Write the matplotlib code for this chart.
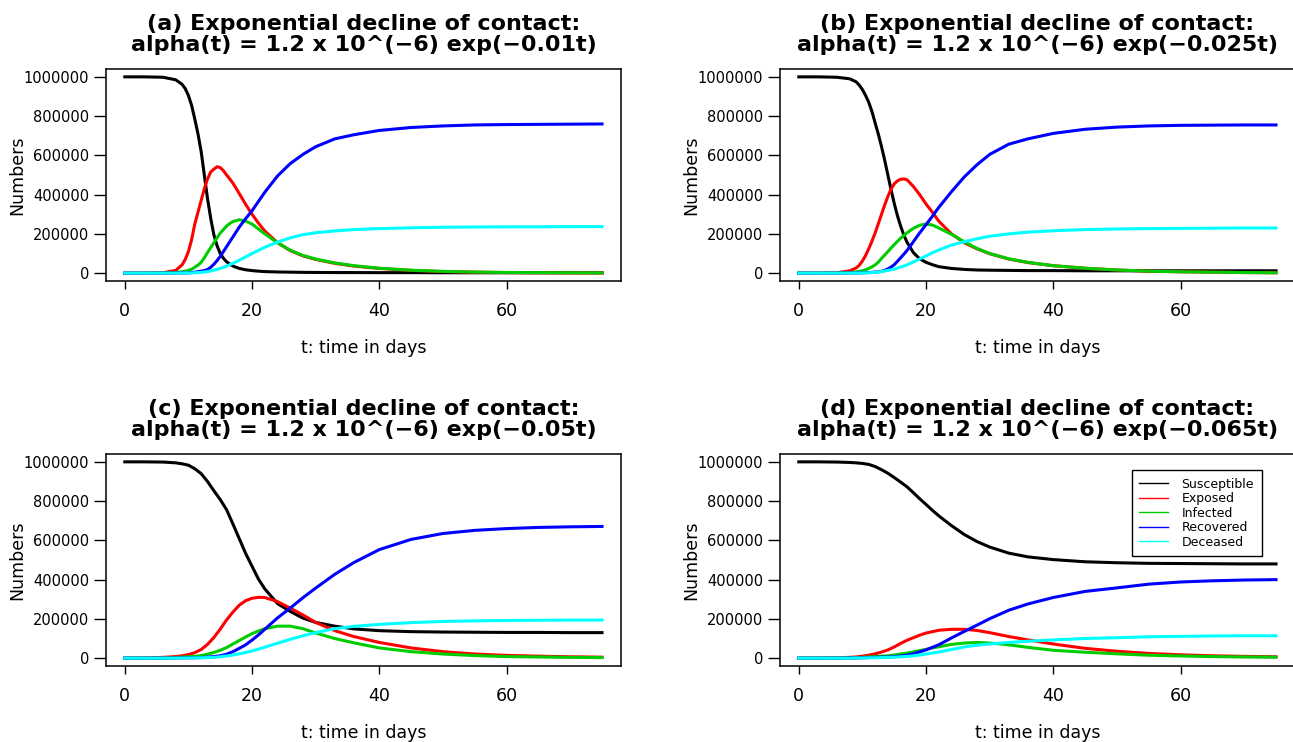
import numpy as np
import matplotlib.pyplot as plt

plt.rcParams['font.family'] = ['DejaVu Sans']

# time grids (days); compartments in thousands
# panels (a), (b) have the fast outbreak, so they are read more densely
t_fast = [0, 3, 6, 8, 9, 9.5, 10, 10.5, 11, 11.5, 12, 12.5, 13, 13.5, 14, 14.5,
          15, 15.5, 16, 16.5, 17, 18, 19, 20, 21, 22, 24, 26, 28, 30, 33, 36,
          40, 45, 50, 55, 60, 65, 70, 75]
t_days = [0, 3, 6, 8, 9, 10, 11, 12, 13, 14, 15, 16, 17, 18, 19, 20, 21, 22,
          24, 26, 28, 30, 33, 36, 40, 45, 50, 55, 60, 65, 70, 75]

# (a) exp(-0.01t)
sus_a = [1000, 1000, 998, 985, 962, 940, 905, 855, 785, 710, 620, 500, 380, 280, 195, 140,
         100, 76, 58, 46, 36, 24, 17, 13, 10, 8, 6, 5, 4, 3.5, 3, 3, 2.5, 2.5, 2, 2, 2, 2, 2, 2]
exp_a = [0, 0, 2, 14, 42, 70, 110, 170, 250, 310, 370, 430, 480, 515, 530, 542,
         538, 522, 500, 480, 458, 405, 350, 300, 255, 215, 155, 115, 88, 70, 50, 36,
         24, 14, 8, 5, 3, 2, 1.5, 1]
inf_a = [0, 0, 0.5, 3, 7, 10, 14, 20, 30, 41, 55, 78, 105, 130, 155, 180,
         204, 222, 240, 253, 263, 272, 265, 250, 225, 200, 155, 117, 90, 72, 52, 38,
         25, 15, 9, 5.5, 3.5, 2.5, 2, 1.5]
rec_a = [0, 0, 0, 0.5, 1, 1.5, 2, 3, 5, 7, 10, 13, 18, 30, 45, 64,
         85, 110, 135, 160, 185, 235, 278, 318, 365, 412, 495, 558, 605, 644, 684, 705,
         727, 742, 750, 755, 757, 758, 759, 760]
dec_a = [0, 0, 0, 0, 0.5, 0.7, 1, 1.5, 2, 3, 4, 6, 8, 11, 15, 19,
         24, 30, 36, 43, 50, 66, 83, 100, 116, 132, 158, 180, 196, 206, 215, 222,
         227, 231, 234, 235, 236, 236, 237, 237]

# (b) exp(-0.025t)
sus_b = [1000, 1000, 998, 990, 975, 958, 935, 905, 870, 823, 765, 708, 645, 575, 500, 425,
         355, 293, 240, 195, 158, 105, 73, 55, 43, 33, 24, 19, 16, 15, 14, 13,
         13, 12, 12, 12, 12, 12, 12, 12]
exp_b = [0, 0, 2, 12, 26, 40, 62, 90, 125, 163, 205, 252, 300, 347, 391, 428,
         455, 470, 478, 480, 476, 442, 400, 352, 310, 265, 200, 155, 124, 99, 72, 54,
         38, 25, 16, 10, 7, 5, 3, 2]
inf_b = [0, 0, 0.5, 3, 6, 9, 12, 17, 24, 32, 42, 56, 75, 92, 110, 128,
         145, 162, 178, 192, 205, 228, 244, 250, 245, 230, 198, 160, 126, 100, 73, 55,
         38, 25, 16, 10, 7, 5, 3, 2]
rec_b = [0, 0, 0, 0.5, 1, 1.5, 2, 2.5, 3, 4, 5, 7, 9, 14, 22, 31,
         43, 60, 78, 96, 115, 160, 205, 247, 290, 335, 415, 490, 552, 605, 657, 684,
         712, 733, 744, 750, 753, 754, 755, 755]
dec_b = [0, 0, 0, 0, 0.5, 0.7, 1, 1.5, 2, 3, 4, 6, 8, 11, 14, 17,
         21, 26, 31, 36, 42, 57, 72, 88, 104, 118, 143, 160, 175, 188, 200, 209,
         216, 222, 225, 227, 228, 229, 230, 230]

# (c) exp(-0.05t)
sus_c = [1000, 1000, 999, 995, 990, 983, 965, 940, 900, 853, 808, 756, 683, 608, 533, 468, 403, 353,
         278, 238, 204, 182, 163, 149, 140, 135, 133, 132, 131, 131, 130, 130]
exp_c = [0, 1, 4, 8, 12, 18, 28, 44, 70, 105, 148, 195, 235, 270, 293, 305, 310, 309,
         288, 255, 220, 182, 140, 110, 80, 52, 33, 21, 14, 10, 7, 5]
inf_c = [0, 0, 1, 3, 5, 7, 9, 13, 20, 29, 40, 54, 72, 90, 108, 125, 138, 150,
         163, 163, 150, 128, 100, 78, 52, 33, 21, 13, 8, 6, 4, 3]
rec_c = [0, 0, 0, 1, 1, 2, 2, 3, 5, 8, 12, 20, 33, 50, 68, 92, 118, 147,
         205, 255, 308, 357, 427, 487, 553, 605, 635, 651, 660, 666, 669, 671]
dec_c = [0, 0, 0, 0, 0.5, 1, 1.5, 2, 3, 4, 7, 11, 16, 22, 29, 37, 46, 56,
         76, 96, 114, 130, 150, 162, 172, 181, 187, 190, 192, 193, 194, 194]

# (d) exp(-0.065t)
sus_d = [1000, 1000, 999, 997, 995, 992, 987, 976, 960, 942, 920, 897, 873, 843, 812, 783, 753, 725,
         675, 630, 594, 566, 535, 516, 502, 491, 486, 483, 482, 481, 480, 480]
exp_d = [0, 1, 2, 4, 6, 10, 15, 22, 31, 42, 57, 75, 91, 104, 117, 128, 135, 142,
         147, 147, 141, 130, 110, 93, 72, 50, 35, 24, 17, 12, 9, 7]
inf_d = [0, 0, 1, 2, 3, 4, 6, 8, 10, 12, 16, 21, 26, 32, 38, 45, 52, 58,
         70, 77, 80, 77, 68, 55, 40, 30, 22, 15, 11, 8, 6, 5]
rec_d = [0, 0, 0, 1, 1, 2, 3, 4, 5, 6, 8, 11, 15, 22, 32, 42, 55, 68,
         103, 136, 168, 201, 244, 276, 309, 340, 358, 377, 388, 394, 398, 400]
dec_d = [0, 0, 0, 0, 1, 1, 2, 2, 3, 4, 5, 7, 9, 12, 16, 21, 26, 31,
         44, 57, 66, 72, 80, 86, 93, 100, 104, 109, 111, 113, 114, 114]

labels = ['Susceptible', 'Exposed', 'Infected', 'Recovered', 'Deceased']
colors = ['black', '#FF0000', '#00CD00', '#0000FF', '#00FFFF']
panels = [
    ('(a)', '0.01', t_fast, [sus_a, exp_a, inf_a, rec_a, dec_a]),
    ('(b)', '0.025', t_fast, [sus_b, exp_b, inf_b, rec_b, dec_b]),
    ('(c)', '0.05', t_days, [sus_c, exp_c, inf_c, rec_c, dec_c]),
    ('(d)', '0.065', t_days, [sus_d, exp_d, inf_d, rec_d, dec_d]),
]

fig = plt.figure(figsize=(12.93, 7.42), dpi=100)
W, H = 1293, 742
rects = [(105.7, 281), (779.7, 281), (105.7, 666), (779.7, 666)]
aw, ah = 515.4, 212

yt = np.arange(0, 1000001, 200000)
for (x0, yb), (tag, rate, tt, series) in zip(rects, panels):
    ax = fig.add_axes([x0 / W, 1 - yb / H, aw / W, ah / H])
    t = np.array(tt)
    for vals, c, lab in zip(series, colors, labels):
        ax.plot(t, np.array(vals) * 1000, color=c, lw=2.2, label=lab)
    ax.set_xlim(-3, 78)
    ax.set_ylim(-40000, 1040000)
    ax.set_xticks([0, 20, 40, 60])
    ax.set_yticks(yt)
    ax.set_yticklabels([str(v) for v in yt])
    ax.tick_params(axis='x', length=6, width=1, pad=9, labelsize=12.5)
    ax.tick_params(axis='y', length=9, width=1, pad=3, labelsize=10.5)
    for s in ax.spines.values():
        s.set_linewidth(1.1)
    ax.set_title(f'{tag} Exponential decline of contact:\n'
                 f'alpha(t) = 1.2 x 10^(\u22126) exp(\u2212{rate}t)',
                 fontsize=16, fontweight='bold', linespacing=1.05, pad=13)
    ax.set_xlabel('t: time in days', fontsize=12.5, labelpad=14)
    ax.set_ylabel('Numbers', fontsize=12.5)
    ax.yaxis.set_label_coords(-0.155, 0.5)
    if tag == '(d)':
        leg = ax.legend(loc='upper right', bbox_to_anchor=(0.947, 0.953),
                        fontsize=9, frameon=True, fancybox=False,
                        edgecolor='black', framealpha=1, borderpad=0.6,
                        labelspacing=0.12, handlelength=2.3, handletextpad=1.1)
        leg.get_frame().set_linewidth(1)
        for ln in leg.get_lines():
            ln.set_linewidth(1)

fig.savefig('out.png', dpi=100)
